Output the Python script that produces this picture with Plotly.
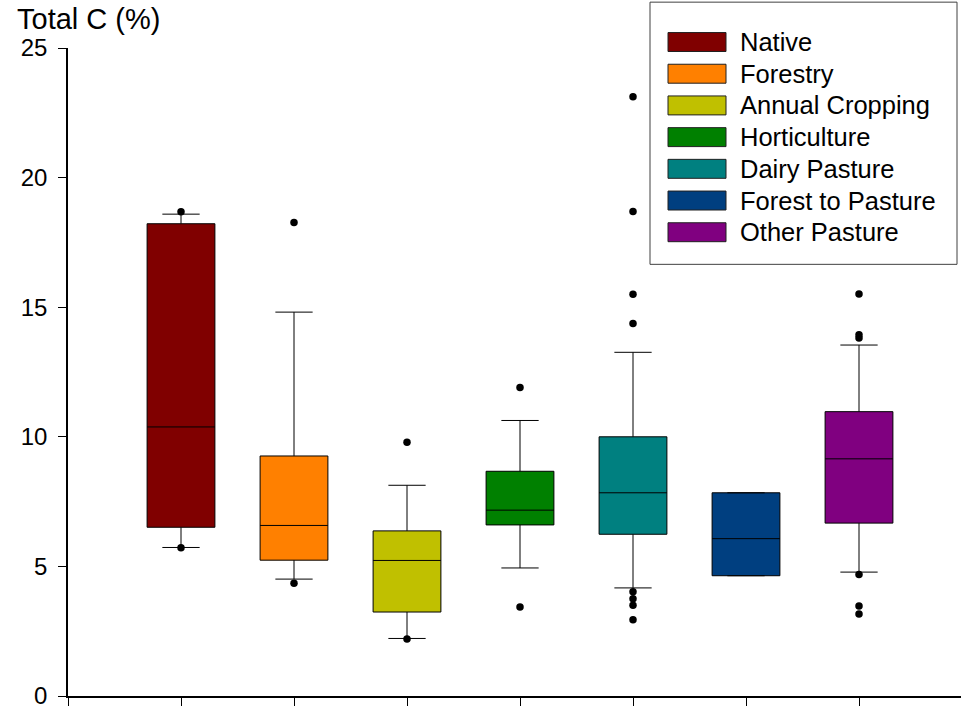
import plotly.graph_objects as go

# Land-use categories and their colours
categories = ["Native", "Forestry", "Annual Cropping", "Horticulture",
              "Dairy Pasture", "Forest to Pasture", "Other Pasture"]
colors = ["#800000", "#ff8000", "#c0c000", "#008000",
          "#008080", "#003f80", "#800080"]

# Box summary statistics (Total C, %)
q1 = [6.51, 5.24, 3.24, 6.60, 6.24, 4.64, 6.67]
median = [10.38, 6.58, 5.23, 7.17, 7.84, 6.07, 9.15]
q3 = [18.22, 9.26, 6.37, 8.67, 10.00, 7.84, 10.97]
lower_whisker = [5.73, 4.51, 2.22, 4.94, 4.17, 4.64, 4.78]
upper_whisker = [18.59, 14.81, 8.13, 10.63, 13.26, 7.84, 13.54]

# Points outside the whiskers
outliers = [
    [18.68, 5.72],
    [18.27, 4.35],
    [9.79, 2.20],
    [11.90, 3.43],
    [23.12, 18.69, 15.50, 14.37, 4.02, 3.75, 3.50, 2.94],
    [],
    [15.51, 13.94, 13.81, 4.69, 3.47, 3.16],
]

FONT = "Liberation Sans, Arial, sans-serif"
W, H = 961, 709
L, T, B, R = 68, 48, 11, 0
plot_w = W - L - R
plot_h = H - T - B


def px(x):
    return (x - L) / plot_w


def py(y):
    return (H - B - y) / plot_h


fig = go.Figure()

for i, name in enumerate(categories):
    pos = i + 1
    fig.add_trace(go.Box(
        x=[pos], q1=[q1[i]], median=[median[i]], q3=[q3[i]],
        lowerfence=[lower_whisker[i]], upperfence=[upper_whisker[i]],
        name=name, width=0.6, whiskerwidth=0.55,
        fillcolor=colors[i], line=dict(color="black", width=1),
        boxpoints=False, showlegend=False,
    ))
    if outliers[i]:
        fig.add_trace(go.Scatter(
            x=[pos] * len(outliers[i]), y=outliers[i], mode="markers",
            marker=dict(color="black", size=7.5), showlegend=False,
            hoverinfo="y",
        ))

# Legend drawn as a framed block of swatches and labels
shapes = [dict(type="rect", xref="paper", yref="paper",
               x0=px(650), x1=px(957), y0=py(265), y1=py(2),
               line=dict(color="#404040", width=1), fillcolor="white",
               layer="below")]
annotations = []
for i, name in enumerate(categories):
    cy = 42 + i * 31.8
    shapes.append(dict(type="rect", xref="paper", yref="paper",
                       x0=px(668), x1=px(726), y0=py(cy + 9.5), y1=py(cy - 9.5),
                       line=dict(color="#202020", width=1), fillcolor=colors[i]))
    annotations.append(dict(xref="paper", yref="paper", x=px(738), y=py(cy),
                            xanchor="left", yanchor="middle", text=name,
                            showarrow=False,
                            font=dict(family=FONT, size=25.5, color="black")))

annotations.append(dict(xref="paper", yref="paper", x=px(15), y=py(19),
                        xanchor="left", yanchor="middle", text="Total C (%)",
                        showarrow=False,
                        font=dict(family=FONT, size=29, color="black")))

fig.update_layout(
    width=W, height=H,
    margin=dict(l=L, r=R, t=T, b=B),
    paper_bgcolor="white", plot_bgcolor="white",
    boxmode="overlay",
    font=dict(family=FONT, size=24, color="black"),
    shapes=shapes, annotations=annotations,
    xaxis=dict(range=[0, plot_w / 113.0], tickvals=list(range(0, 8)),
               ticktext=[""] * 8, ticks="outside", ticklen=8, tickwidth=1,
               tickcolor="black", showline=True, linecolor="black",
               linewidth=2, showgrid=False, zeroline=False, fixedrange=True),
    yaxis=dict(range=[0, 25], tickvals=[0, 5, 10, 15, 20, 25],
               ticks="outside", ticklen=8, tickwidth=1, tickcolor="black",
               showline=True, linecolor="black", linewidth=1.5,
               showgrid=False, zeroline=False, ticklabelstandoff=6,
               ticklabeloverflow="allow",
               tickfont=dict(family=FONT, size=24, color="black")),
)

fig.write_html("out.html")
